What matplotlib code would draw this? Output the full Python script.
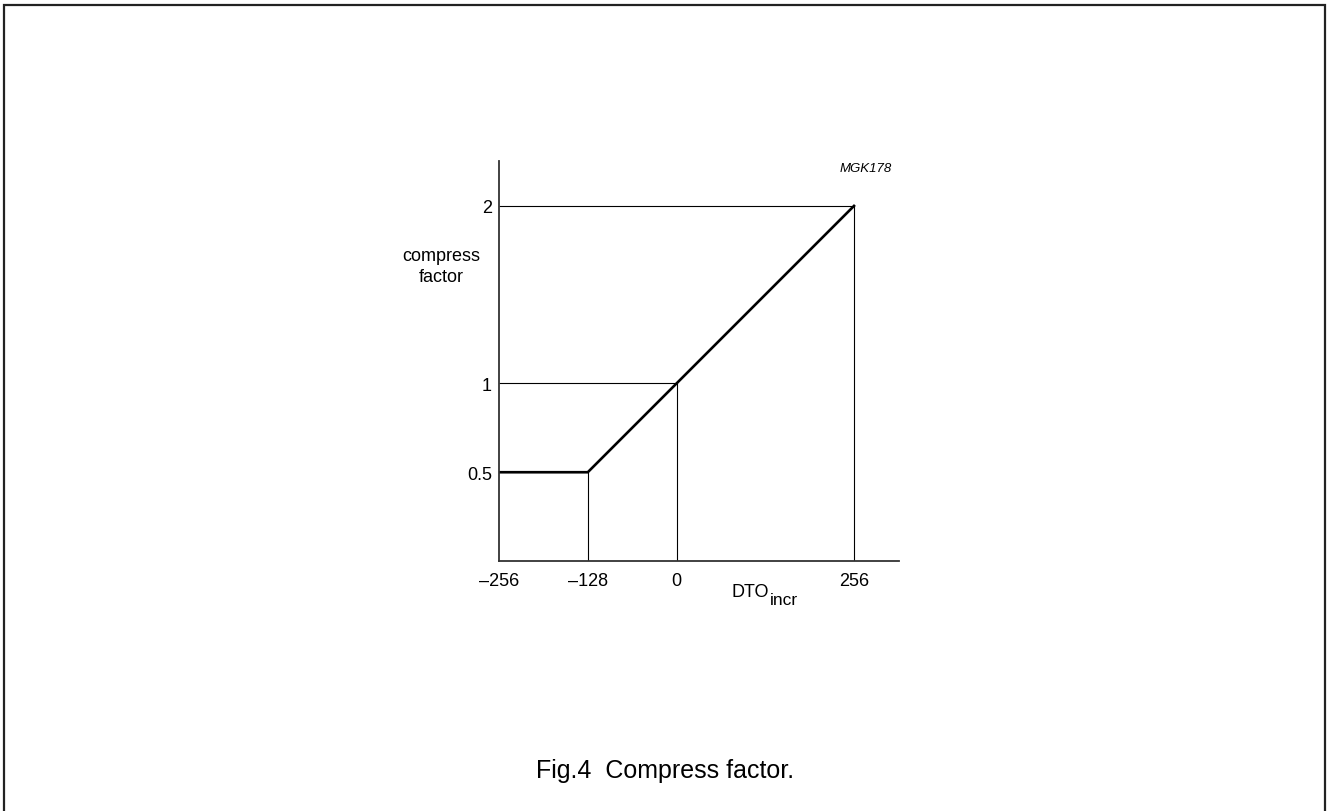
import matplotlib
matplotlib.use("Agg")
import matplotlib.pyplot as plt
from matplotlib.patches import Rectangle

plt.rcParams['font.family'] = ['Liberation Sans', 'DejaVu Sans']

# compress factor curve (thick line)
curve_x = [-256, -128, 256]
curve_y = [0.5, 0.5, 2]

# points that get thin guide lines to both axes
guide_x = [-128, 0, 256]
guide_y = [0.5, 1, 2]

x_ticks = [-256, -128, 0, 256]
x_labels = ['\u2013256', '\u2013128', '0', '256']
y_ticks = [0.5, 1, 2]
y_labels = ['0.5', '1', '2']

fig = plt.figure(figsize=(13.28, 8.12), dpi=100)
ax = fig.add_axes([0.3758, 0.3079, 0.3012, 0.4926])

x_min, x_max = -256, 321
y_min, y_max = 0, 2.253

for gx, gy in zip(guide_x, guide_y):
    ax.plot([x_min, gx], [gy, gy], color='black', lw=0.8, solid_capstyle='butt')
    ax.plot([gx, gx], [y_min, gy], color='black', lw=0.8, solid_capstyle='butt')

ax.plot(curve_x, curve_y, color='black', lw=1.9, solid_joinstyle='miter')

ax.set_xlim(x_min, x_max)
ax.set_ylim(y_min, y_max)
ax.set_xticks(x_ticks)
ax.set_xticklabels(x_labels)
ax.set_yticks(y_ticks)
ax.set_yticklabels(y_labels)
ax.tick_params(axis='both', length=0, labelsize=13)
ax.tick_params(axis='x', pad=8)
ax.tick_params(axis='y', pad=5)

for side in ['top', 'right']:
    ax.spines[side].set_visible(False)
for side in ['left', 'bottom']:
    ax.spines[side].set_linewidth(1.3)
    ax.spines[side].set_color('#333333')

fig.text(0.332, 0.671, 'compress\nfactor', ha='center', va='center',
         fontsize=13, linespacing=1.3)
fig.text(0.6717, 0.7919, 'MGK178', ha='right', va='center',
         fontsize=9.5, style='italic')
fig.text(0.5512, 0.2648, 'DTO', ha='left', va='baseline', fontsize=13)
fig.text(0.5795, 0.2549, 'incr', ha='left', va='baseline', fontsize=12.5)

fig.text(0.5008, 0.0419, 'Fig.4  Compress factor.', ha='center', va='baseline',
         fontsize=18)

# frame round the figure, open at the bottom edge
fig.patches.append(Rectangle((0.00324, -0.02), 0.9945, 1.0126,
                             transform=fig.transFigure, fill=False,
                             edgecolor='#222222', lw=1.6))

fig.savefig('out.png', dpi=100)
